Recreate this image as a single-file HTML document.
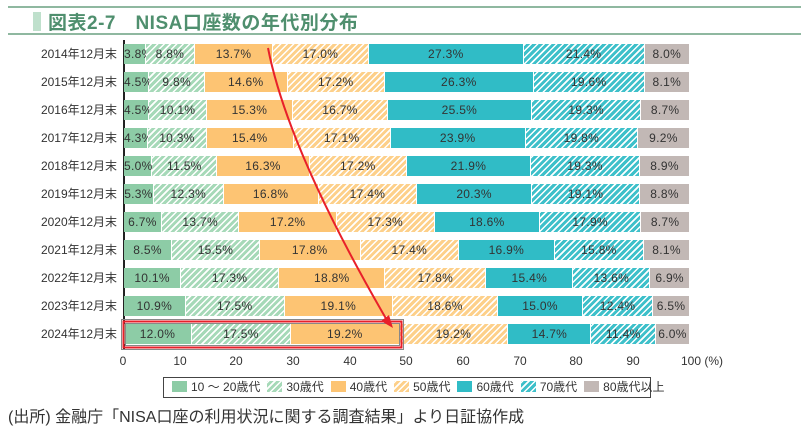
<!DOCTYPE html>
<html><head><meta charset="utf-8"><style>
body{margin:0;width:811px;height:437px;background:#fff;position:relative;overflow:hidden;font-family:"Liberation Sans","Noto Sans CJK JP",sans-serif;color:#333}
.hl{position:absolute;left:8px;right:10px;height:2px;background:#8fb8a0}
.title{position:absolute;left:48px;top:8px;font-size:19px;font-weight:bold;color:#4f8f6e;letter-spacing:0.5px}
.tbar{position:absolute;left:33px;top:12px;width:8px;height:19px;background:#bfe0cc}
.row{position:absolute;left:124px;width:566px;height:20px;display:flex}
.row div{box-sizing:border-box;border-right:1px solid #fff;font-size:12px;line-height:20px;text-align:center;white-space:nowrap;overflow:visible;letter-spacing:0.3px}
.lab{position:absolute;right:694px;font-size:12px;line-height:20px;white-space:nowrap}
.a{background:#8dcca6}
.b{background:repeating-linear-gradient(-45deg,#a6d9b8 0 3px,#fff 3px 4.5px)}
.c{background:#fdc473}
.d{background:repeating-linear-gradient(-45deg,#fdd08a 0 3px,#fff 3px 4.5px)}
.e{background:#30bcc6}
.f{background:repeating-linear-gradient(-45deg,#3ec0ca 0 3px,#fff 3px 4.5px)}
.g{background:#c2b8b5}
.tick{position:absolute;top:354px;font-size:12px;transform:translateX(-50%)}
.leg{position:absolute;left:163px;top:377px;width:488px;height:21px;border:1px solid #444;box-sizing:border-box;font-size:12px;line-height:19px;padding-left:8px;white-space:nowrap}
.leg span.s{display:inline-block;width:15px;height:11px;margin:0 4px 0 7px;vertical-align:-1px}
.foot{position:absolute;left:8px;top:403px;font-size:16px}
</style></head><body>
<div class="hl" style="top:6px"></div>
<div class="hl" style="top:33px"></div>
<div class="tbar"></div>
<div class="title">図表2-7　NISA口座数の年代別分布</div>
<div style="position:absolute;left:123px;top:40px;width:2px;height:310px;background:#222"></div>

<div class="lab" style="top:44px">2014年12月末</div>
<div class="row" style="top:44px"><div class="a" style="width:3.8%">3.8%</div><div class="b" style="width:8.8%">8.8%</div><div class="c" style="width:13.7%">13.7%</div><div class="d" style="width:17.0%">17.0%</div><div class="e" style="width:27.3%">27.3%</div><div class="f" style="width:21.4%">21.4%</div><div class="g" style="width:8.0%">8.0%</div></div>
<div class="lab" style="top:72px">2015年12月末</div>
<div class="row" style="top:72px"><div class="a" style="width:4.5%">4.5%</div><div class="b" style="width:9.8%">9.8%</div><div class="c" style="width:14.6%">14.6%</div><div class="d" style="width:17.2%">17.2%</div><div class="e" style="width:26.3%">26.3%</div><div class="f" style="width:19.6%">19.6%</div><div class="g" style="width:8.0%">8.1%</div></div>
<div class="lab" style="top:100px">2016年12月末</div>
<div class="row" style="top:100px"><div class="a" style="width:4.5%">4.5%</div><div class="b" style="width:10.1%">10.1%</div><div class="c" style="width:15.3%">15.3%</div><div class="d" style="width:16.7%">16.7%</div><div class="e" style="width:25.5%">25.5%</div><div class="f" style="width:19.3%">19.3%</div><div class="g" style="width:8.6%">8.7%</div></div>
<div class="lab" style="top:128px">2017年12月末</div>
<div class="row" style="top:128px"><div class="a" style="width:4.3%">4.3%</div><div class="b" style="width:10.3%">10.3%</div><div class="c" style="width:15.4%">15.4%</div><div class="d" style="width:17.1%">17.1%</div><div class="e" style="width:23.9%">23.9%</div><div class="f" style="width:19.8%">19.8%</div><div class="g" style="width:9.2%">9.2%</div></div>
<div class="lab" style="top:156px">2018年12月末</div>
<div class="row" style="top:156px"><div class="a" style="width:5.0%">5.0%</div><div class="b" style="width:11.5%">11.5%</div><div class="c" style="width:16.3%">16.3%</div><div class="d" style="width:17.2%">17.2%</div><div class="e" style="width:21.9%">21.9%</div><div class="f" style="width:19.3%">19.3%</div><div class="g" style="width:8.8%">8.9%</div></div>
<div class="lab" style="top:184px">2019年12月末</div>
<div class="row" style="top:184px"><div class="a" style="width:5.3%">5.3%</div><div class="b" style="width:12.3%">12.3%</div><div class="c" style="width:16.8%">16.8%</div><div class="d" style="width:17.4%">17.4%</div><div class="e" style="width:20.3%">20.3%</div><div class="f" style="width:19.1%">19.1%</div><div class="g" style="width:8.8%">8.8%</div></div>
<div class="lab" style="top:212px">2020年12月末</div>
<div class="row" style="top:212px"><div class="a" style="width:6.7%">6.7%</div><div class="b" style="width:13.7%">13.7%</div><div class="c" style="width:17.2%">17.2%</div><div class="d" style="width:17.3%">17.3%</div><div class="e" style="width:18.6%">18.6%</div><div class="f" style="width:17.9%">17.9%</div><div class="g" style="width:8.6%">8.7%</div></div>
<div class="lab" style="top:240px">2021年12月末</div>
<div class="row" style="top:240px"><div class="a" style="width:8.5%">8.5%</div><div class="b" style="width:15.5%">15.5%</div><div class="c" style="width:17.8%">17.8%</div><div class="d" style="width:17.4%">17.4%</div><div class="e" style="width:16.9%">16.9%</div><div class="f" style="width:15.8%">15.8%</div><div class="g" style="width:8.1%">8.1%</div></div>
<div class="lab" style="top:268px">2022年12月末</div>
<div class="row" style="top:268px"><div class="a" style="width:10.1%">10.1%</div><div class="b" style="width:17.3%">17.3%</div><div class="c" style="width:18.8%">18.8%</div><div class="d" style="width:17.8%">17.8%</div><div class="e" style="width:15.4%">15.4%</div><div class="f" style="width:13.6%">13.6%</div><div class="g" style="width:7.0%">6.9%</div></div>
<div class="lab" style="top:296px">2023年12月末</div>
<div class="row" style="top:296px"><div class="a" style="width:10.9%">10.9%</div><div class="b" style="width:17.5%">17.5%</div><div class="c" style="width:19.1%">19.1%</div><div class="d" style="width:18.6%">18.6%</div><div class="e" style="width:15.0%">15.0%</div><div class="f" style="width:12.4%">12.4%</div><div class="g" style="width:6.5%">6.5%</div></div>
<div class="lab" style="top:324px">2024年12月末</div>
<div class="row" style="top:324px"><div class="a" style="width:12.0%">12.0%</div><div class="b" style="width:17.5%">17.5%</div><div class="c" style="width:19.2%">19.2%</div><div class="d" style="width:19.2%">19.2%</div><div class="e" style="width:14.7%">14.7%</div><div class="f" style="width:11.4%">11.4%</div><div class="g" style="width:6.0%">6.0%</div></div>

<svg style="position:absolute;left:0;top:0" width="811" height="437">
<rect x="121.5" y="319.5" width="282" height="30" fill="none" stroke="#888" stroke-width="1"/>
<rect x="123.5" y="321.5" width="278" height="26" fill="none" stroke="#e8202a" stroke-width="2"/>
<rect x="125.5" y="323.5" width="274" height="22" fill="none" stroke="#888" stroke-width="1"/>
<path d="M268,48 Q288,150 388,322" fill="none" stroke="#e8202a" stroke-width="2"/>
<polygon points="393,328 381,321 389,315" fill="#e8202a"/>
</svg>

<div class="tick" style="left:123px">0</div>
<div class="tick" style="left:180px">10</div>
<div class="tick" style="left:236px">20</div>
<div class="tick" style="left:293px">30</div>
<div class="tick" style="left:350px">40</div>
<div class="tick" style="left:406px">50</div>
<div class="tick" style="left:463px">60</div>
<div class="tick" style="left:520px">70</div>
<div class="tick" style="left:576px">80</div>
<div class="tick" style="left:633px">90</div>
<div style="position:absolute;left:681px;top:354px;font-size:12px">100 (%)</div>

<div class="leg"><span class="s a" style="margin-left:0"></span>10 ～ 20歳代<span class="s b"></span>30歳代<span class="s c"></span>40歳代<span class="s d"></span>50歳代<span class="s e"></span>60歳代<span class="s f"></span>70歳代<span class="s g"></span>80歳代以上</div>
<div class="foot">(出所) 金融庁「NISA口座の利用状況に関する調査結果」より日証協作成</div>
</body></html>
